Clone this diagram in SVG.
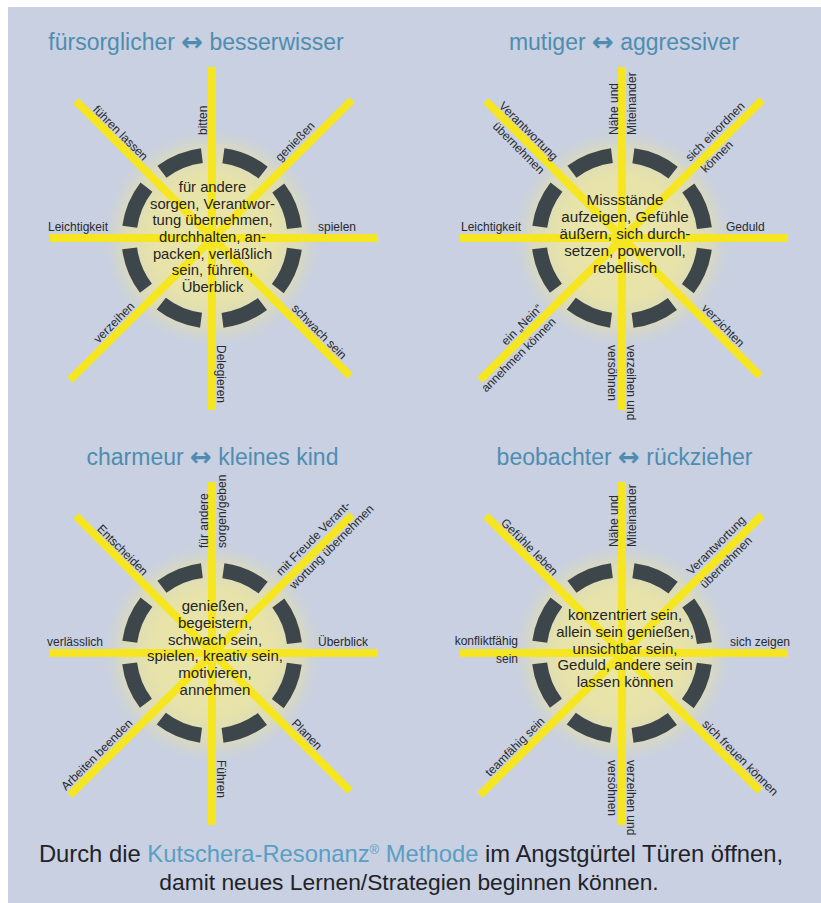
<svg xmlns="http://www.w3.org/2000/svg" width="821" height="903" viewBox="0 0 821 903">
<defs>
<radialGradient id="glow" cx="0.5" cy="0.5" r="0.5">
<stop offset="0" stop-color="#ece8a6"/>
<stop offset="0.55" stop-color="#e6e2aa"/>
<stop offset="0.78" stop-color="#dddbb8" stop-opacity="0.85"/>
<stop offset="1" stop-color="#c8d0e2" stop-opacity="0"/>
</radialGradient>
<g id="spokes">
<line x1="0" y1="-171" x2="0" y2="172"/>
<line x1="-162" y1="0" x2="166" y2="0"/>
<line x1="-136" y1="-137" x2="138" y2="138"/>
<line x1="140" y1="-138" x2="-142" y2="142"/>
</g>
</defs>
<style>
.bg{fill:#c8d0e2}
.glow{fill:url(#glow)}
.spk{stroke:#f6e621;stroke-width:8;fill:none}
.ring{fill:none;stroke:#3d474b;stroke-width:15;stroke-dasharray:43.46 21.73;stroke-dashoffset:54.32}
.title{font-family:"Liberation Sans","DejaVu Sans",sans-serif;font-size:23px;fill:#4f8db0;text-anchor:middle}
.arr{font-family:"DejaVu Sans",sans-serif;font-weight:bold;font-size:26px}
.ctr{font-family:"Liberation Sans","DejaVu Sans",sans-serif;fill:#242424;text-anchor:middle}
.lbl{font-family:"Liberation Sans","DejaVu Sans",sans-serif;font-size:12px;fill:#2a2a2a}
.e{text-anchor:end}
.foot{font-family:"Liberation Sans","DejaVu Sans",sans-serif;fill:#1f2328;text-anchor:middle}
.blue{fill:#5b9ec3}
</style>
<rect width="821" height="903" fill="#ffffff"/>
<rect class="bg" x="8" y="7" width="813" height="896"/>

<g id="panel-1">
<text class="title" x="196" y="50">fürsorglicher <tspan class="arr" dy="1">↔</tspan><tspan dy="-1"> besserwisser</tspan></text>
<circle class="glow" cx="212" cy="238" r="115"/>
<circle class="ring" cx="212" cy="238" r="83"/>
<g id="connectors-1" class="spk" transform="translate(212,238)"><use href="#spokes"/></g>
<g class="ctr" font-size="14.8">
<text x="212.5" y="192">für andere</text>
<text x="212.5" y="208.7">sorgen, Verantwor-</text>
<text x="212.5" y="225.3">tung übernehmen,</text>
<text x="212.5" y="242">durchhalten, an-</text>
<text x="212.5" y="258.7">packen, verläßlich</text>
<text x="212.5" y="275.3">sein, führen,</text>
<text x="212.5" y="292">Überblick</text>
</g>
<g class="lbl">
<text transform="translate(212,135) rotate(-90)" y="-5">bitten</text>
<text transform="translate(212,345) rotate(90)" y="-5">Delegieren</text>
<text transform="translate(318,238)" y="-7">spielen</text>
<text class="e" transform="translate(108,238)" y="-7">Leichtigkeit</text>
<text transform="translate(284.1,165.9) rotate(-45)" y="-5.5">genießen</text>
<text class="e" transform="translate(139.2,310.8) rotate(-45)" y="-5.5">verzeihen</text>
<text class="e" transform="translate(139.2,165.2) rotate(45)" y="-5.5">führen lassen</text>
<text transform="translate(287,313) rotate(45)" y="-5.5">schwach sein</text>
</g>
</g>

<g id="panel-2">
<text class="title" x="624" y="50">mutiger <tspan class="arr" dy="1">↔</tspan><tspan dy="-1"> aggressiver</tspan></text>
<circle class="glow" cx="622" cy="238" r="115"/>
<circle class="ring" cx="622" cy="238" r="83"/>
<g id="connectors-2" class="spk" transform="translate(622,238)"><use href="#spokes"/></g>
<g class="ctr" font-size="15.2">
<text x="625" y="205">Missstände</text>
<text x="625" y="222">aufzeigen, Gefühle</text>
<text x="625" y="239">äußern, sich durch-</text>
<text x="625" y="256">setzen, powervoll,</text>
<text x="625" y="273">rebellisch</text>
</g>
<g class="lbl">
<text transform="translate(622,135) rotate(-90)"><tspan x="0" y="-4.5">Nähe und</tspan><tspan x="0" y="14">Miteinander</tspan></text>
<text transform="translate(622,345) rotate(90)"><tspan x="0" y="-4.5">verzeihen und</tspan><tspan x="0" y="14">versöhnen</tspan></text>
<text transform="translate(726,238)" y="-7">Geduld</text>
<text class="e" transform="translate(521,238)" y="-7">Leichtigkeit</text>
<text transform="translate(694.1,165.9) rotate(-45)"><tspan x="0" y="-5.5">sich einordnen</tspan><tspan x="3" y="13.5">können</tspan></text>
<text class="e" transform="translate(547,313) rotate(-45)"><tspan x="0" y="-5.5">ein „Nein“</tspan><tspan x="0" y="13.5">annehmen können</tspan></text>
<text class="e" transform="translate(549.2,165.2) rotate(45)"><tspan x="0" y="-5.5">Verantwortung</tspan><tspan x="0" y="13.5">übernehmen</tspan></text>
<text transform="translate(697,313) rotate(45)" y="-5.5">verzichten</text>
</g>
</g>

<g id="panel-3">
<text class="title" x="212.5" y="465">charmeur <tspan class="arr" dy="1">↔</tspan><tspan dy="-1"> kleines kind</tspan></text>
<circle class="glow" cx="212" cy="653" r="115"/>
<circle class="ring" cx="212" cy="653" r="83"/>
<g id="connectors-3" class="spk" transform="translate(212,653)"><use href="#spokes"/></g>
<g class="ctr" font-size="15">
<text x="215" y="611">genießen,</text>
<text x="215" y="627.8">begeistern,</text>
<text x="215" y="644.6">schwach sein,</text>
<text x="215" y="661.4">spielen, kreativ sein,</text>
<text x="215" y="678.2">motivieren,</text>
<text x="215" y="695">annehmen</text>
</g>
<g class="lbl">
<text transform="translate(212,548) rotate(-90)"><tspan x="0" y="-4.5">für andere</tspan><tspan x="0" y="14">sorgen/geben</tspan></text>
<text transform="translate(212,760) rotate(90)" y="-5">Führen</text>
<text transform="translate(318,653)" y="-7">Überblick</text>
<text class="e" transform="translate(103,653)" y="-7">verlässlich</text>
<text transform="translate(284.8,580.2) rotate(-45)"><tspan x="0" y="-5.5">mit Freude Verant-</tspan><tspan x="0" y="13.5">wortung übernehmen</tspan></text>
<text class="e" transform="translate(137,728) rotate(-45)" y="-5.5">Arbeiten beenden</text>
<text class="e" transform="translate(139.2,580.2) rotate(45)" y="-5.5">Entscheiden</text>
<text transform="translate(287,728) rotate(45)" y="-5.5">Planen</text>
</g>
</g>

<g id="panel-4">
<text class="title" x="624.5" y="465">beobachter <tspan class="arr" dy="1">↔</tspan><tspan dy="-1"> rückzieher</tspan></text>
<circle class="glow" cx="622" cy="653" r="115"/>
<circle class="ring" cx="622" cy="653" r="83"/>
<g id="connectors-4" class="spk" transform="translate(622,653)"><use href="#spokes"/></g>
<g class="ctr" font-size="15">
<text x="625" y="620">konzentriert sein,</text>
<text x="625" y="636.8">allein sein genießen,</text>
<text x="625" y="653.5">unsichtbar sein,</text>
<text x="625" y="670.2">Geduld, andere sein</text>
<text x="625" y="687">lassen können</text>
</g>
<g class="lbl">
<text transform="translate(622,547) rotate(-90)"><tspan x="0" y="-4.5">Nähe und</tspan><tspan x="0" y="14">Miteinander</tspan></text>
<text transform="translate(622,760) rotate(90)"><tspan x="0" y="-4.5">verzeihen und</tspan><tspan x="0" y="14">versöhnen</tspan></text>
<text transform="translate(730,653)" y="-7">sich zeigen</text>
<text class="e" transform="translate(518,653)"><tspan x="0" y="-8">konfliktfähig</tspan><tspan x="0" y="10">sein</tspan></text>
<text transform="translate(695.5,579.5) rotate(-45)"><tspan x="0" y="-5.5">Verantwortung</tspan><tspan x="0" y="13.5">übernehmen</tspan></text>
<text class="e" transform="translate(549.2,725.8) rotate(-45)" y="-5.5">teamfähig sein</text>
<text class="e" transform="translate(549.2,580.2) rotate(45)" y="-5.5">Gefühle leben</text>
<text transform="translate(697.7,728.7) rotate(45)" y="-5.5">sich freuen können</text>
</g>
</g>

<g id="footer">
<text class="foot" x="411" y="862" font-size="23.8">Durch die <tspan class="blue">Kutschera-Resonanz<tspan font-size="13" dy="-8">®</tspan><tspan dy="8"> Methode</tspan></tspan> im Angstgürtel Türen öffnen,</text>
<text class="foot" x="409" y="890" font-size="22.8">damit neues Lernen/Strategien beginnen können.</text>
</g>
</svg>
